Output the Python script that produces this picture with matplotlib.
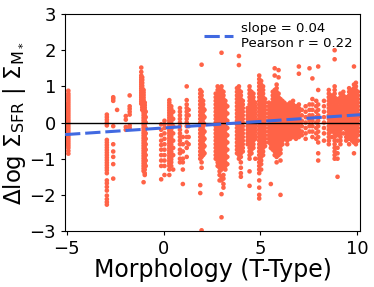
import matplotlib
matplotlib.use("Agg")
import matplotlib.pyplot as plt
import numpy as np

strip_x = [-4.92, -4.97, -2.93, -2.6, -2.4, -1.95, -1.75,
           -1.15, -1.1, -1.03, -0.97, -0.92,
           -0.12, 0.05, 0.3, 0.4, 0.5, 0.85, 1.0, 1.2, 1.3,
           1.9, 1.97, 2.05, 2.12,
           2.7, 2.8, 2.9, 3.0, 3.1, 3.2, 3.3,
           3.8, 3.9, 4.0, 4.1, 4.35, 4.45, 4.55, 4.65, 4.75,
           4.95, 5.05, 5.15, 5.25, 5.45, 5.55, 5.65, 5.75, 5.85, 5.95,
           6.05, 6.15, 6.25, 6.4, 6.55, 6.7, 6.85,
           7.0, 7.15, 7.35, 7.55, 7.7, 7.9, 8.0, 8.3,
           8.55, 8.7, 8.85, 9.0, 9.15, 9.3, 9.45, 9.6, 9.75, 9.85, 9.95, 10.05]
strip_y = [
    [0.88, 0.8, 0.74, 0.68, 0.62, 0.56, 0.5, 0.44, 0.38, 0.32, 0.26, 0.2, 0.14, 0.08, 0.02,
     -0.04, -0.1, -0.16, -0.22, -0.28, -0.34, -0.4, -0.46, -0.52, -0.58, -0.64, -0.7, -0.78, -0.86],
    [0.5, 0.4, 0.3, 0.2, 0.1, 0.0, -0.1, -0.2, -0.3, -0.4, -0.5, -0.6],
    [0.22, 0.15, 0.08, 0.0, -0.08, -0.48, -0.55, -0.62, -0.69, -0.76, -0.83, -0.9, -0.97,
     -1.04, -1.11, -1.18, -1.25, -1.32, -1.4, -1.6, -1.68, -1.78, -1.88, -2.02, -2.12, -2.2, -2.27],
    [0.7, 0.66, 0.6, -0.1, -0.6, -0.8, -0.95, -1.15, -1.55],
    [0.35],
    [0.18, 0.08, -0.12, -0.2],
    [0.75, 0.45, 0.38, 0.3, 0.22, -0.08, -0.15],
    [1.52, 1.4, 1.3, 1.24, 1.18, 1.12, 1.06, 1.0, 0.94, 0.88, 0.82, 0.76, 0.7, 0.64, 0.58, 0.52],
    [1.25, 1.18, 1.1, 1.02, 0.95, 0.88, 0.8, 0.72, 0.65, 0.58, 0.5, 0.42, 0.35],
    [0.9, 0.83, 0.76, 0.69, 0.62, 0.55, 0.48, 0.41, 0.34, 0.27, 0.2, 0.13, 0.06, -0.01, -0.08,
     -0.15, -0.22, -0.29, -0.36, -0.43, -0.5, -0.57, -0.64, -0.71, -0.78, -0.85, -0.92, -0.99,
     -1.06, -1.13, -1.2, -1.27, -1.34, -1.65],
    [0.55, 0.48, 0.41, 0.34, 0.27, 0.2, 0.13, 0.06, -0.01, -0.08, -0.15, -0.22, -0.29, -0.36,
     -0.43, -0.5, -0.57, -0.64, -0.71, -0.78, -0.85, -0.92, -0.99, -1.06, -1.13, -1.2, -1.3,
     -1.4, -1.45],
    [0.3, 0.15, 0.0, -0.15, -0.3, -0.45, -0.6, -0.75, -0.9, -1.05, -1.2],
    [-0.05, -0.2, -0.35, -0.5, -0.62, -0.75, -0.9, -1.05, -1.2, -1.57],
    [0.05, -0.05, -0.15, -0.3, -0.45, -0.6, -0.75, -0.9, -1.05, -1.2, -1.45],
    [0.62, 0.55, 0.48, 0.41, 0.34, 0.27, 0.2, 0.13, 0.06, -0.01, -0.08, -0.15, -0.22, -0.29,
     -0.36, -0.43, -0.5, -0.57, -0.64, -0.71, -0.78, -0.85, -0.92, -0.99, -1.06, -1.13, -1.2,
     -1.3, -1.45],
    [0.45, 0.38, 0.31, 0.24, 0.17, 0.1, 0.03, -0.04, -0.11, -0.18, -0.25, -0.32, -0.39, -0.46,
     -0.53, -0.6, -0.67, -0.74, -0.81, -0.88, -0.95, -1.02, -1.1, -1.2],
    [0.3, 0.1, -0.1, -0.3, -0.5, -0.7, -0.9, -1.3],
    [0.4, 0.3, 0.2, 0.1, 0.0, -0.1, -0.2, -0.3, -0.4, -0.5, -0.6, -0.75, -0.85, -1.0, -1.1],
    [-0.4, -0.6, -0.8, -1.0, -1.1, -1.3, -1.7],
    [1.0, 0.62, 0.5, 0.4, 0.3, 0.2, 0.1, 0.0, -0.1, -0.25, -0.4, -0.55, -0.7, -0.95],
    [0.35, 0.2, -0.1, -0.4, -0.6],
    [0.9, 0.8, 0.7, 0.6, 0.5, 0.4, 0.3, 0.2, 0.1, 0.0, -0.1, -0.2, -0.3, -0.4, -0.5, -0.6,
     -0.7, -0.8, -0.9, -1.0, -1.73, -1.95],
    [1.6, 0.85, 0.75, 0.65, 0.55, 0.45, 0.35, 0.25, 0.15, 0.05, -0.05, -0.15, -0.25, -0.35,
     -0.45, -0.55, -0.65, -0.75, -0.85, -0.95, -1.1, -1.25, -2.98],
    [0.6, 0.5, 0.4, 0.3, 0.2, 0.1, 0.0, -0.1, -0.2, -0.3, -0.4, -0.5, -0.6, -0.7, -0.8, -0.9],
    [0.35, 0.15, -0.05, -0.25, -0.45, -0.65, -0.85],
    [0.8, 0.7, 0.6, 0.5, 0.4, 0.3, 0.2, 0.1, 0.0, -0.1, -0.2, -0.3, -0.4, -0.5, -0.6, -0.7,
     -0.8, -0.9, -1.0],
    [1.0, 0.9, 0.8, 0.7, 0.6, 0.5, 0.4, 0.3, 0.2, 0.1, 0.0, -0.1, -0.2, -0.3, -0.4, -0.5,
     -0.6, -0.7, -0.8, -0.9, -1.0, -1.1, -1.2],
    [0.95, 0.85, 0.75, 0.65, 0.55, 0.45, 0.35, 0.25, 0.15, 0.05, -0.05, -0.15, -0.25, -0.35,
     -0.45, -0.55, -0.65, -0.75, -0.85, -0.95, -1.05, -1.15, -1.25, -1.35, -1.45, -1.6],
    [1.93, 1.0, 0.9, 0.8, 0.7, 0.6, 0.5, 0.4, 0.3, 0.2, 0.1, 0.0, -0.1, -0.2, -0.3, -0.4,
     -0.5, -0.6, -0.7, -0.8, -0.9, -1.0, -1.1, -1.2, -1.3, -1.5, -1.6, -1.98, -2.62],
    [0.85, 0.75, 0.65, 0.55, 0.45, 0.35, 0.25, 0.15, 0.05, -0.05, -0.15, -0.25, -0.35, -0.45,
     -0.55, -0.65, -0.75, -0.85, -0.95, -1.05, -1.15, -1.25, -1.45, -1.55, -1.7, -1.8],
    [0.6, 0.5, 0.4, 0.3, 0.2, 0.1, 0.0, -0.1, -0.2, -0.3, -0.4, -0.5, -0.6, -0.7, -0.8, -0.9,
     -1.0, -1.1, -1.2, -1.3],
    [0.45, 0.25, 0.05, -0.15, -0.35, -0.55, -0.75, -0.95, -1.15],
    [0.95, 0.85, 0.75, 0.65, 0.55, 0.45, 0.35, 0.25, 0.15, 0.05, -0.05, -0.15, -0.25, -0.35,
     -0.45, -0.55, -0.65, -0.75, -0.85],
    [1.84, 1.59, 1.0, 0.9, 0.8, 0.7, 0.6, 0.5, 0.4, 0.3, 0.2, 0.1, 0.0, -0.1, -0.2, -0.3,
     -0.4, -0.5, -0.6, -0.7, -0.8, -0.9, -1.0],
    [0.85, 0.75, 0.65, 0.55, 0.45, 0.35, 0.25, 0.15, 0.05, -0.05, -0.15, -0.25, -0.35, -0.45,
     -0.55, -0.65, -0.75, -0.85, -0.95, -1.1, -1.25, -1.4, -1.5],
    [0.6, 0.5, 0.4, 0.3, 0.2, 0.1, 0.0, -0.1, -0.2, -0.3, -0.4, -0.5, -0.6, -0.7, -0.8],
    [0.4, 0.3, 0.2, 0.1, 0.0, -0.1, -0.2, -0.3, -0.4, -0.5, -0.6],
    [1.0, 0.9, 0.8, 0.7, 0.6, 0.5, 0.4, 0.3, 0.2, 0.1, 0.0, -0.1, -0.2, -0.3, -0.4, -0.5,
     -0.6, -0.7, -0.8, -0.9, -1.0, -1.35, -1.75],
    [0.85, 0.75, 0.65, 0.55, 0.45, 0.35, 0.25, 0.15, 0.05, -0.05, -0.15, -0.25, -0.35, -0.45,
     -0.55, -0.65, -0.75, -0.85],
    [0.8, 0.7, 0.6, 0.5, 0.4, 0.3, 0.2, 0.1, 0.0, -0.1, -0.2, -0.3, -0.4, -0.5, -0.6, -0.7],
    [0.55, 0.45, 0.35, 0.25, 0.15, 0.05, -0.05, -0.15, -0.25, -0.35, -0.45, -1.0],
    [1.3, 1.2, 1.1, 1.0, 0.9, 0.8, 0.7, 0.6, 0.5, 0.4, 0.3, 0.2, 0.1, 0.0, -0.1, -0.2, -0.3,
     -0.4, -0.5, -0.6, -0.7, -0.8, -0.9, -1.0, -1.1, -1.2, -1.3, -1.4, -1.6, -1.8, -2.0, -2.1],
    [1.15, 1.05, 0.95, 0.85, 0.75, 0.65, 0.55, 0.45, 0.35, 0.25, 0.15, 0.05, -0.05, -0.15,
     -0.25, -0.35, -0.45, -0.55, -0.65, -0.75, -0.85, -0.95, -1.05, -1.15, -1.3],
    [1.0, 0.9, 0.8, 0.7, 0.6, 0.5, 0.4, 0.3, 0.2, 0.1, 0.0, -0.1, -0.2, -0.3, -0.4, -0.5,
     -0.6, -0.7, -0.8, -0.9],
    [0.65, 0.55, 0.45, 0.35, 0.25, 0.15, 0.05, -0.05, -0.15, -0.25, -0.35, -0.45, -0.55, -0.65],
    [0.55, 0.45, 0.35, 0.25, 0.15, 0.05, -0.05, -0.15, -0.25, -0.35, -0.45, -0.55],
    [0.5, 0.4, 0.3, 0.2, 0.1, 0.0, -0.1, -0.2, -0.3, -0.4, -0.5, -0.6, -0.7, -1.7],
    [0.85, 0.75, 0.65, 0.55, 0.45, 0.35, 0.25, 0.15, 0.05, -0.05, -0.15, -0.25, -0.35, -0.45,
     -0.55, -0.65, -0.75],
    [1.5, 1.3, 0.9, 0.8, 0.7, 0.6, 0.5, 0.4, 0.3, 0.2, 0.1, 0.0, -0.1, -0.2, -0.3, -0.4,
     -0.5, -0.6, -0.7, -0.8, -0.9],
    [1.05, 0.95, 0.85, 0.75, 0.65, 0.55, 0.45, 0.35, 0.25, 0.15, 0.05, -0.05, -0.15, -0.25,
     -0.35, -0.45, -0.55, -0.65, -0.75, -0.85, -0.95, -1.1],
    [1.45, 1.25, 0.8, 0.7, 0.6, 0.5, 0.4, 0.3, 0.2, 0.1, 0.0, -0.1, -0.2, -0.3, -0.4, -0.5,
     -0.6, -0.7, -0.8, -0.9],
    [0.65, 0.55, 0.45, 0.35, 0.25, 0.15, 0.05, -0.05, -0.15, -0.25, -0.35, -0.45, -0.55,
     -0.65, -0.75, -0.85, -1.05, -2.0],
    [0.6, 0.5, 0.4, 0.3, 0.2, 0.1, 0.0, -0.1, -0.2, -0.3, -0.4, -0.5, -0.6],
    [0.55, 0.45, 0.35, 0.25, 0.15, 0.05, -0.05, -0.15, -0.25, -0.35, -0.45],
    [0.5, 0.4, 0.3, 0.2, 0.1, 0.0, -0.1, -0.2, -0.3, -0.4, -0.5, -0.6],
    [0.55, 0.45, 0.35, 0.25, 0.15, 0.05, -0.05, -0.15, -0.25, -0.35, -0.45],
    [0.6, 0.5, 0.4, 0.3, 0.2, 0.1, 0.0, -0.1, -0.2, -0.3, -0.4],
    [0.45, 0.35, 0.25, 0.15, 0.05, -0.05, -0.15, -0.25, -0.35, -0.45],
    [1.55, 1.35, 0.5, 0.4, 0.3, 0.2, 0.1, 0.0, -0.1, -0.2, -0.3, -0.4],
    [0.35, 0.2, 0.05, -0.1, -0.25, -0.35],
    [0.45, 0.3, 0.15, 0.0, -0.15, -0.3, -0.45],
    [1.5, 0.5, 0.35, 0.2, 0.05, -0.1, -0.25],
    [1.22, 0.65, 0.5, 0.35, 0.2, 0.05, -0.1, -0.25, -0.4],
    [0.6, 0.45, 0.3, 0.15, 0.0, -0.15, -0.3, -0.45],
    [1.55, 0.9, 0.5, 0.35, 0.2, 0.05, -0.1, -0.25, -0.4, -0.55, -0.85, -1.05],
    [0.6, 0.45, 0.3, 0.15, 0.0, -0.15, -0.3, -0.5],
    [0.9, 0.8, 0.7, 0.6, 0.5, 0.4, 0.3, 0.2, 0.1, 0.0, -0.1, -0.2, -0.3, -0.4, -0.5, -0.6],
    [0.75, 0.65, 0.55, 0.45, 0.35, 0.25, 0.15, 0.05, -0.05, -0.15, -0.25, -0.4],
    [2.0, 1.75, 1.0, 0.9, 0.8, 0.7, 0.6, 0.5, 0.4, 0.3, 0.2, 0.1, 0.0, -0.1, -0.2, -0.3,
     -0.4, -0.5, -0.6, -0.7, -0.8, -0.9, -1.0],
    [0.65, 0.55, 0.45, 0.35, 0.25, 0.15, 0.05, -0.05, -0.15, -0.25, -0.35, -0.5, -0.7,
     -0.85, -1.0, -1.5],
    [0.8, 0.7, 0.6, 0.5, 0.4, 0.3, 0.2, 0.1, 0.0, -0.1, -0.2, -0.3, -0.4, -0.5, -0.6],
    [0.85, 0.75, 0.65, 0.55, 0.45, 0.35, 0.25, 0.15, 0.05, -0.05, -0.15, -0.3],
    [0.7, 0.6, 0.5, 0.4, 0.3, 0.2, 0.1, 0.0, -0.1, -0.2, -0.3, -0.4, -0.5],
    [0.95, 0.85, 0.75, 0.65, 0.55, 0.45, 0.35, 0.25, 0.15, 0.05, -0.05, -0.15, -0.25, -0.35,
     -0.45, -0.6],
    [0.9, 0.8, 0.7, 0.6, 0.5, 0.4, 0.3, 0.2, 0.1, 0.0, -0.1, -0.2, -0.3, -0.4, -0.5],
    [1.55, 1.05, 0.95, 0.85, 0.75, 0.65, 0.55, 0.45, 0.35, 0.25, 0.15, 0.05, -0.05, -0.15,
     -0.25, -0.35, -0.45, -0.55, -0.85],
    [1.1, 1.0, 0.9, 0.8, 0.7, 0.6, 0.5, 0.4, 0.3, 0.2, 0.1, 0.0, -0.1, -0.2, -0.3, -0.4,
     -0.5, -0.6],
    [0.85, 0.75, 0.65, 0.55, 0.45, 0.35, 0.25, 0.15, 0.05, -0.05, -0.15, -0.25, -0.35, -0.5],
]

fit_slope = 0.036
fit_intercept = -0.15
legend_label = "slope = 0.04\nPearson r = 0.22"

ttype = [x for x, ys in zip(strip_x, strip_y) for _ in ys]
dlog = [y for ys in strip_y for y in ys]

fig = plt.figure(figsize=(3.74, 2.87), dpi=100)
ax = fig.add_axes([0.174, 0.195, 0.789, 0.756])

ax.scatter(ttype, dlog, s=11, color="tomato", edgecolors="none", zorder=2)
ax.axhline(0, color="black", lw=1.0, zorder=3)

xlim = (-5.09, 10.17)
xl = np.array(xlim)
ax.plot(xl, fit_slope * xl + fit_intercept, ls="--", color="royalblue",
        lw=2.2, dashes=(5, 1.6), label=legend_label, zorder=4)

ax.set_xlim(*xlim)
ax.set_ylim(-3, 3)
ax.set_xticks([-5, 0, 5, 10])
ax.set_yticks([-3, -2, -1, 0, 1, 2, 3])
ax.tick_params(labelsize=13, length=3)

ax.set_xlabel("Morphology (T-Type)", fontsize=17, labelpad=0)
ax.set_ylabel(r"$\Delta$log $\Sigma_{\rm SFR}$ | $\Sigma_{\rm M_*}$", fontsize=16.5, labelpad=2)

ax.legend(loc="upper right", frameon=False, fontsize=9.5, handlelength=2.2,
          borderaxespad=0.2, handletextpad=0.6)

fig.savefig("out.png", dpi=100)
